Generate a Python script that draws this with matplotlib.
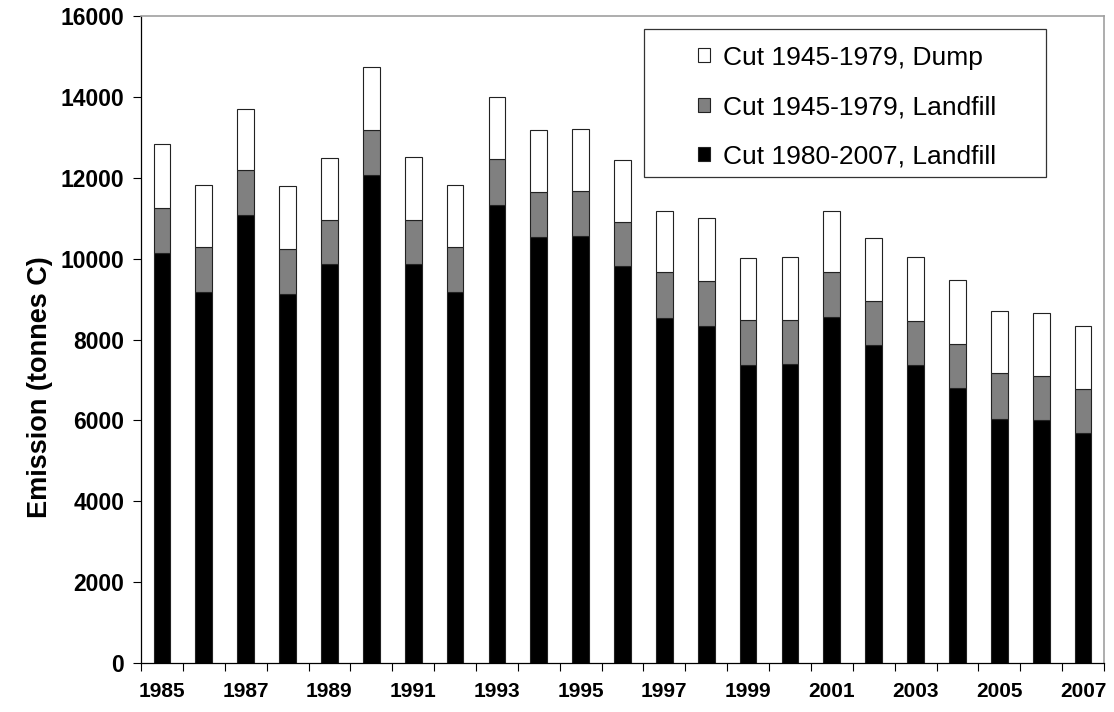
import numpy as np
import matplotlib
matplotlib.use("Agg")
import matplotlib.pyplot as plt
from matplotlib.patches import Rectangle

plt.rcParams['font.family'] = ['Liberation Sans', 'DejaVu Sans']

years = list(range(1985, 2008))
landfill_new = [10150, 9180, 11070, 9120, 9860, 12080, 9860, 9180, 11320, 10540, 10570, 9820,
                8520, 8340, 7370, 7390, 8560, 7870, 7370, 6790, 6040, 6010, 5690]
landfill_old = [1100, 1100, 1110, 1130, 1090, 1100, 1090, 1100, 1140, 1100, 1100, 1090,
                1140, 1100, 1120, 1100, 1100, 1090, 1090, 1100, 1130, 1100, 1090]
dump_old = [1580, 1540, 1530, 1540, 1530, 1570, 1560, 1540, 1530, 1540, 1540, 1540,
            1530, 1560, 1530, 1540, 1530, 1540, 1570, 1570, 1540, 1540, 1550]
labels = ["Cut 1980-2007, Landfill", "Cut 1945-1979, Landfill", "Cut 1945-1979, Dump"]
colors = ["#000000", "#808080", "#ffffff"]
yticks = [0, 2000, 4000, 6000, 8000, 10000, 12000, 14000, 16000]

fig = plt.figure(figsize=(11.14, 7.12), dpi=100)
ax = fig.add_axes([0.1266, 0.0688, 0.8644, 0.9087])

x = np.arange(len(years))
w = 0.4
b1 = ax.bar(x, landfill_new, w, color=colors[0], edgecolor='#222222', linewidth=0.8, label=labels[0])
bottom2 = np.array(landfill_new)
b2 = ax.bar(x, landfill_old, w, bottom=bottom2, color=colors[1], edgecolor='#222222', linewidth=0.8, label=labels[1])
bottom3 = bottom2 + np.array(landfill_old)
b3 = ax.bar(x, dump_old, w, bottom=bottom3, color=colors[2], edgecolor='#222222', linewidth=0.8, label=labels[2])

ax.set_xlim(-0.5, len(years) - 0.5)
ax.set_ylim(0, 16000)
ax.set_yticks(yticks)
ax.set_yticklabels([str(v) for v in yticks], fontsize=16.5, fontweight='bold')
ax.set_xticks(x[::2])
ax.set_xticklabels([str(y) for y in years[::2]], fontsize=15, fontweight='bold')
ax.set_xticks(np.arange(-0.5, len(years)), minor=True)
ax.tick_params(axis='x', which='major', length=0, pad=14)
ax.tick_params(axis='x', which='minor', length=6, width=0.8, direction='out')
ax.tick_params(axis='y', length=6, width=0.8, direction='out', pad=6)

ax.set_ylabel("Emission (tonnes C)", fontsize=19.5, fontweight='bold')
ax.yaxis.set_label_coords(-0.091, 0.427)

for s in ['top', 'right']:
    ax.spines[s].set_color('#a0a0a0')
    ax.spines[s].set_linewidth(1.2)
for s in ['left', 'bottom']:
    ax.spines[s].set_color('black')
    ax.spines[s].set_linewidth(0.9)

# legend frame
ax.add_patch(Rectangle((0.5223, 0.7512), 0.4175, 0.2287, transform=ax.transAxes,
                       facecolor='white', edgecolor='#333333', linewidth=0.9, zorder=5))
leg = ax.legend(handles=[b3, b2, b1], labels=[labels[2], labels[1], labels[0]],
                loc='center', bbox_to_anchor=(0.7336, 0.8593), frameon=False,
                fontsize=19, handlelength=0.45, handleheight=0.45, handletextpad=0.5,
                labelspacing=0.96, borderpad=0)
leg.set_zorder(6)

fig.savefig("out.png", dpi=100)
